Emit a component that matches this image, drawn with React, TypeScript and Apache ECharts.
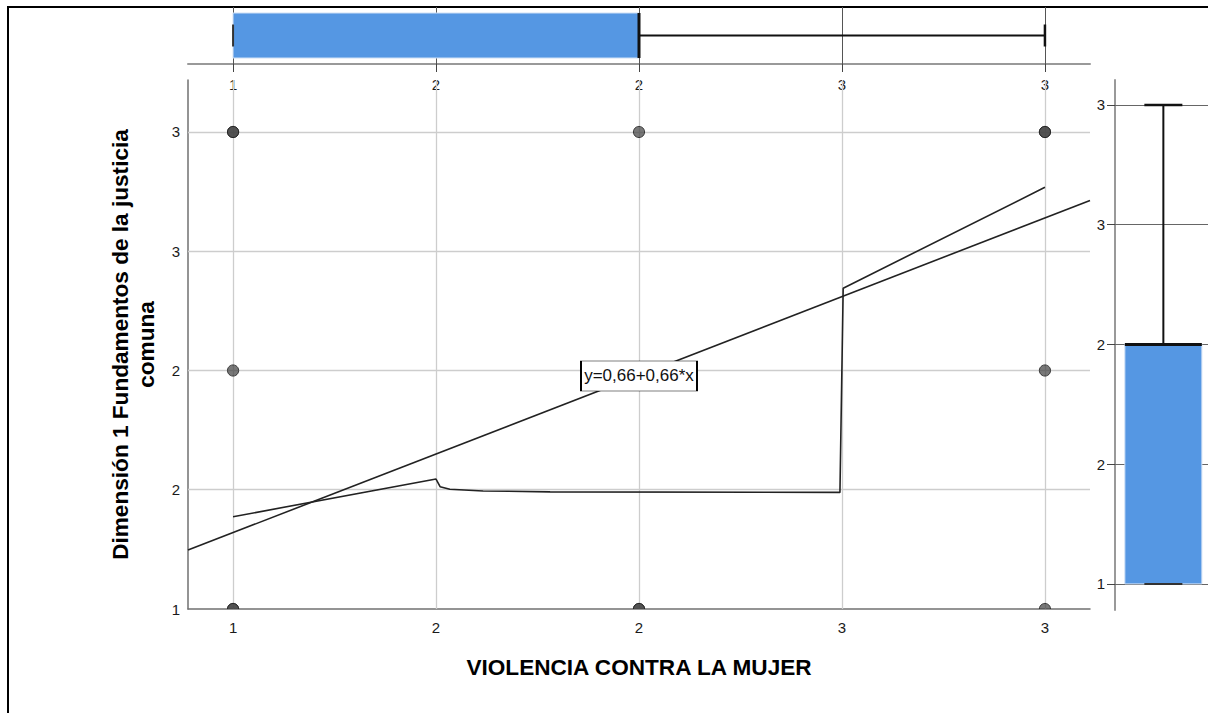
import React, { useEffect, useRef } from "react";
import * as echarts from "echarts";

const FONT = '"Liberation Sans", Arial, Helvetica, sans-serif';

// ---- data ----
const xTickValues = [1, 1.5, 2, 2.5, 3];
const xTickLabels = ["1", "2", "2", "3", "3"];
const yTickValues = [1, 1.5, 2, 2.5, 3];
const yTickLabels = ["1", "2", "2", "3", "3"];

const xTitle = "VIOLENCIA CONTRA LA MUJER";
const yTitle = "Dimensión 1 Fundamentos de la justicia\ncomuna";

// observed points (repeated entries = overlapping cases)
const scatterPoints: number[][] = [
  [1, 3], [1, 3],
  [1, 2],
  [1, 1], [1, 1],
  [2, 3],
  [2, 1], [2, 1],
  [3, 3], [3, 3],
  [3, 2],
  [3, 1],
];

// linear fit y = 0.66 + 0.66x, drawn across the axis range
const regressionLine: number[][] = [
  [0.889, 1.247],
  [3.111, 2.713],
];
const fitLabel = "y=0,66+0,66*x";
const fitLabelAt = [2, 1.977];

// loess fit line
const loessCurve: number[][] = [
  [1.0, 1.387],
  [1.5, 1.545],
  [1.51, 1.513],
  [1.534, 1.502],
  [1.616, 1.495],
  [1.781, 1.491],
  [2.495, 1.489],
  [2.503, 2.345],
  [3.0, 2.768],
];

// boxplot stats: min, q1, median, q3, max
const xBoxStats = [1, 1, 2, 2, 3];
const yBoxStats = [1, 1, 2, 2, 3];

// ---- helpers ----
const X_MIN = 0.889;
const X_MAX = 3.111;
const Y_MIN = 1;
const Y_MAX = 3.218;
const RY_MIN = 0.891;
const RY_MAX = 3.104;

const BLUE = "#5597e3";
const INK = "#111";
const TICK_FONT = 15;

const makeLabel = (values: number[], labels: string[], margin: number) => ({
  customValues: values,
  margin,
  formatter: (v: number) => {
    const i = values.findIndex((t) => Math.abs(t - v) < 1e-6);
    return i >= 0 ? labels[i] : "";
  },
  fontSize: TICK_FONT,
  color: "#1a1a1a",
  fontFamily: FONT,
});
const titleStyle = { fontSize: 22.6, fontWeight: "bold", color: "#000", fontFamily: FONT, lineHeight: 26 };

function buildOption() {
  return {
    animation: false,
    backgroundColor: "transparent",
    textStyle: { fontFamily: FONT },
    grid: [
      { left: 188, top: 80, width: 902, height: 529 },
      { left: 188, top: 7, width: 902, height: 57 },
      { left: 1115, top: 80, width: 93, height: 530 },
    ],
    xAxis: [
      {
        gridIndex: 0,
        type: "value",
        min: X_MIN,
        max: X_MAX,
        axisLine: { show: true, onZero: false, lineStyle: { color: "#707070", width: 1.5 } },
        axisTick: { show: false },
        splitLine: { show: false },
        axisLabel: makeLabel(xTickValues, xTickLabels, 11),
        name: xTitle,
        nameLocation: "middle",
        nameGap: 45,
        nameTextStyle: titleStyle,
      },
      {
        gridIndex: 1,
        type: "value",
        min: X_MIN,
        max: X_MAX,
        axisLine: { show: true, onZero: false, lineStyle: { color: "#999", width: 2 } },
        axisTick: { show: true, customValues: xTickValues, length: 8, lineStyle: { color: "#444", width: 1 } },
        splitLine: { show: false },
        axisLabel: makeLabel(xTickValues, xTickLabels, 13),
      },
      { gridIndex: 2, type: "value", min: 0, max: 1, show: false },
    ],
    yAxis: [
      {
        gridIndex: 0,
        type: "value",
        min: Y_MIN,
        max: Y_MAX,
        axisLine: { show: true, onZero: false, lineStyle: { color: "#707070", width: 1.5 } },
        axisTick: { show: false },
        splitLine: { show: false },
        axisLabel: makeLabel(yTickValues, yTickLabels, 8),
        name: yTitle,
        nameLocation: "middle",
        nameRotate: 90,
        nameGap: 29,
        nameTextStyle: { ...titleStyle, align: "center" },
      },
      { gridIndex: 1, type: "value", min: 0, max: 1, show: false },
      {
        gridIndex: 2,
        type: "value",
        min: RY_MIN,
        max: RY_MAX,
        axisLine: { show: true, onZero: false, lineStyle: { color: "#999", width: 2 } },
        axisTick: { show: true, customValues: yTickValues, length: 8, lineStyle: { color: "#444", width: 1 } },
        splitLine: { show: false },
        axisLabel: makeLabel(yTickValues, yTickLabels, 10),
      },
    ],
    series: [
      // main plot grid lines
      {
        type: "line",
        xAxisIndex: 0,
        yAxisIndex: 0,
        data: [],
        z: 1,
        silent: true,
        markLine: {
          z: 1,
          silent: true,
          symbol: ["none", "none"],
          label: { show: false },
          lineStyle: { color: "#cdcdcd", width: 1.3, type: "solid" },
          data: [
            ...xTickValues.map((v) => ({ xAxis: v })),
            ...yTickValues.filter((v) => v !== Y_MIN).map((v) => ({ yAxis: v })),
          ],
        },
      },
      // top panel grid lines
      {
        type: "line",
        xAxisIndex: 1,
        yAxisIndex: 1,
        data: [],
        z: 1,
        silent: true,
        markLine: {
          z: 1,
          silent: true,
          symbol: ["none", "none"],
          label: { show: false },
          lineStyle: { color: "#555", width: 1, type: "solid" },
          data: xTickValues.map((v) => ({ xAxis: v })),
        },
      },
      // right panel grid lines
      {
        type: "line",
        xAxisIndex: 2,
        yAxisIndex: 2,
        data: [],
        z: 1,
        silent: true,
        markLine: {
          z: 1,
          silent: true,
          symbol: ["none", "none"],
          label: { show: false },
          lineStyle: { color: "#666", width: 1, type: "solid" },
          data: yTickValues.map((v) => ({ yAxis: v })),
        },
      },
      // scatter points (clipped at the plot frame)
      {
        type: "custom",
        xAxisIndex: 0,
        yAxisIndex: 0,
        clip: true,
        z: 3,
        silent: true,
        encode: { x: 0, y: 1 },
        data: scatterPoints,
        renderItem: (params: any, api: any) => {
          const p = api.coord([api.value(0), api.value(1)]);
          return {
            type: "circle",
            shape: { cx: p[0], cy: p[1], r: 5.6 },
            style: { fill: "rgba(68,68,68,0.72)", stroke: "rgba(35,35,35,0.85)", lineWidth: 1 },
          };
        },
      },
      // linear fit
      {
        type: "line",
        xAxisIndex: 0,
        yAxisIndex: 0,
        data: regressionLine,
        symbol: "none",
        z: 4,
        silent: true,
        lineStyle: { color: "#222", width: 1.6 },
        markPoint: {
          z: 6,
          silent: true,
          symbol: "rect",
          symbolSize: [116, 30],
          itemStyle: { color: "#fff", borderColor: "#000", borderWidth: 1 },
          label: {
            show: true,
            position: "inside",
            formatter: fitLabel,
            color: "#111",
            fontSize: 17,
            fontFamily: FONT,
          },
          data: [{ coord: fitLabelAt, value: 0 }],
        },
      },
      // loess fit
      {
        type: "line",
        xAxisIndex: 0,
        yAxisIndex: 0,
        data: loessCurve,
        symbol: "none",
        z: 4,
        silent: true,
        lineStyle: { color: "#222", width: 1.6 },
      },
      // top (horizontal) boxplot
      {
        type: "custom",
        xAxisIndex: 1,
        yAxisIndex: 1,
        clip: false,
        z: 3,
        silent: true,
        encode: { x: [0, 1, 2, 3, 4] },
        data: [xBoxStats],
        renderItem: (params: any, api: any) => {
          const v = [0, 1, 2, 3, 4].map((i) => api.value(i));
          const px = (x: number) => api.coord([x, 0.5])[0];
          const cy = api.coord([v[2], 0.5])[1];
          const hh = 22.5;
          const cap = 11;
          return {
            type: "group",
            children: [
              {
                type: "rect",
                shape: { x: px(v[1]), y: cy - hh, width: px(v[3]) - px(v[1]), height: hh * 2 },
                style: { fill: BLUE, stroke: "#cfe0f6", lineWidth: 1 },
              },
              { type: "line", shape: { x1: px(v[0]), y1: cy, x2: px(v[1]), y2: cy }, style: { stroke: INK, lineWidth: 2 } },
              { type: "line", shape: { x1: px(v[3]), y1: cy, x2: px(v[4]), y2: cy }, style: { stroke: INK, lineWidth: 2 } },
              { type: "line", shape: { x1: px(v[0]), y1: cy - cap, x2: px(v[0]), y2: cy + cap }, style: { stroke: "#333", lineWidth: 2 } },
              { type: "line", shape: { x1: px(v[4]), y1: cy - cap, x2: px(v[4]), y2: cy + cap }, style: { stroke: INK, lineWidth: 2.5 } },
              { type: "line", shape: { x1: px(v[2]), y1: cy - hh, x2: px(v[2]), y2: cy + hh }, style: { stroke: INK, lineWidth: 3 } },
            ],
          };
        },
      },
      // right (vertical) boxplot
      {
        type: "custom",
        xAxisIndex: 2,
        yAxisIndex: 2,
        clip: false,
        z: 3,
        silent: true,
        encode: { y: [0, 1, 2, 3, 4] },
        data: [yBoxStats],
        renderItem: (params: any, api: any) => {
          const v = [0, 1, 2, 3, 4].map((i) => api.value(i));
          const py = (y: number) => api.coord([0.52, y])[1];
          const cx = api.coord([0.52, v[2]])[0];
          const hw = 38.5;
          const cap = 19;
          return {
            type: "group",
            children: [
              {
                type: "rect",
                shape: { x: cx - hw, y: py(v[3]), width: hw * 2, height: py(v[1]) - py(v[3]) },
                style: { fill: BLUE, stroke: "#cfe0f6", lineWidth: 1 },
              },
              { type: "line", shape: { x1: cx, y1: py(v[0]), x2: cx, y2: py(v[1]) }, style: { stroke: INK, lineWidth: 2 } },
              { type: "line", shape: { x1: cx, y1: py(v[3]), x2: cx, y2: py(v[4]) }, style: { stroke: INK, lineWidth: 2 } },
              { type: "line", shape: { x1: cx - cap, y1: py(v[0]), x2: cx + cap, y2: py(v[0]) }, style: { stroke: "#333", lineWidth: 2 } },
              { type: "line", shape: { x1: cx - cap, y1: py(v[4]), x2: cx + cap, y2: py(v[4]) }, style: { stroke: INK, lineWidth: 2.5 } },
              { type: "line", shape: { x1: cx - hw, y1: py(v[2]), x2: cx + hw, y2: py(v[2]) }, style: { stroke: INK, lineWidth: 3 } },
            ],
          };
        },
      },
    ],
  };
}

export default function App() {
  const ref = useRef<HTMLDivElement>(null);
  useEffect(() => {
    if (!ref.current) return;
    const chart = echarts.init(ref.current, null, { renderer: "svg", width: 1208, height: 713 });
    chart.setOption(buildOption() as any);
    return () => chart.dispose();
  }, []);
  return (
    <div
      style={{
        position: "fixed",
        left: 0,
        top: 0,
        width: 1208,
        height: 713,
        overflow: "hidden",
        background: "#fff",
      }}
    >
      <div
        style={{
          position: "absolute",
          left: 7,
          top: 6,
          width: 1400,
          height: 900,
          borderLeft: "2px solid #000",
          borderTop: "2px solid #000",
        }}
      />
      <div ref={ref} style={{ position: "absolute", left: 0, top: 0, width: 1208, height: 713 }} />
    </div>
  );
}
